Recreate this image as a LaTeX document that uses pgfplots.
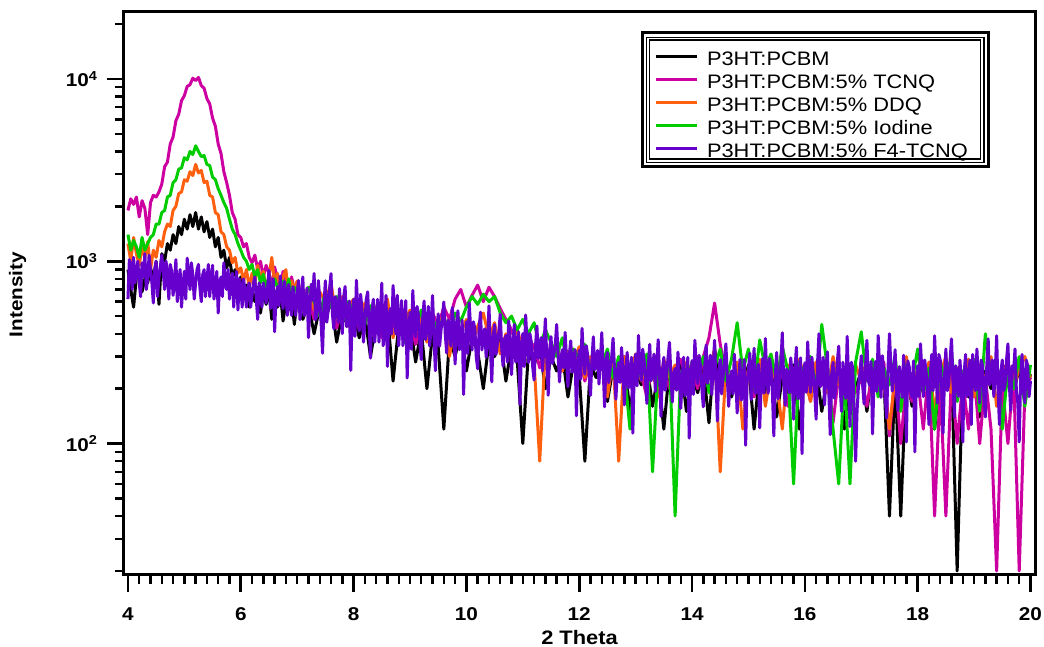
\documentclass[border=0pt]{standalone}
\usepackage{fontspec}
\setmainfont{Liberation Sans}[FakeStretch=1.12]
\usepackage{pgfplots}
\pgfplotsset{compat=1.18}
\usepackage{pgfplotstable}

\definecolor{cMag}{RGB}{204,0,160}
\definecolor{cOra}{RGB}{255,96,16}
\definecolor{cGre}{RGB}{0,204,0}
\definecolor{cPur}{RGB}{102,0,204}

% rows 0-59: 2theta = 4.00 ... 6.95 (step 0.05); rows 60-190: 7.0 ... 20.0 (step 0.1)
\pgfplotstableread[row sep=\\]{
y\\
900\\ 700\\ 560\\ 820\\ 900\\ 680\\ 800\\ 760\\ 920\\ 800\\
1000\\ 580\\ 1100\\ 1000\\ 1250\\ 1150\\ 1400\\ 1250\\ 1550\\ 1400\\
1700\\ 1500\\ 1800\\ 1550\\ 1850\\ 1500\\ 1750\\ 1450\\ 1650\\ 1350\\
1500\\ 1200\\ 1350\\ 1050\\ 1150\\ 920\\ 1050\\ 820\\ 900\\ 720\\
820\\ 650\\ 740\\ 560\\ 700\\ 600\\ 720\\ 520\\ 680\\ 580\\
700\\ 480\\ 620\\ 560\\ 680\\ 470\\ 600\\ 540\\ 650\\ 450\\
620\\ 480\\ 580\\ 400\\ 560\\ 470\\ 620\\ 360\\ 520\\ 440\\
540\\ 380\\ 500\\ 300\\ 460\\ 410\\ 520\\ 220\\ 440\\ 360\\
460\\ 280\\ 420\\ 200\\ 400\\ 340\\ 120\\ 380\\ 300\\ 420\\
250\\ 380\\ 320\\ 200\\ 360\\ 300\\ 380\\ 220\\ 340\\ 290\\
100\\ 320\\ 270\\ 340\\ 200\\ 300\\ 250\\ 310\\ 180\\ 280\\
240\\ 80\\ 270\\ 230\\ 290\\ 170\\ 260\\ 220\\ 280\\ 150\\
250\\ 210\\ 270\\ 160\\ 240\\ 120\\ 260\\ 200\\ 280\\ 150\\
240\\ 190\\ 260\\ 130\\ 330\\ 220\\ 260\\ 180\\ 240\\ 200\\
270\\ 120\\ 250\\ 190\\ 260\\ 140\\ 230\\ 190\\ 270\\ 120\\
240\\ 200\\ 260\\ 150\\ 230\\ 190\\ 280\\ 120\\ 240\\ 200\\
250\\ 150\\ 260\\ 200\\ 240\\ 40\\ 230\\ 40\\ 250\\ 160\\
240\\ 190\\ 270\\ 120\\ 230\\ 200\\ 260\\ 20\\ 240\\ 180\\
270\\ 140\\ 250\\ 200\\ 280\\ 150\\ 240\\ 190\\ 260\\ 170\\
240\\
}\tblBlack

\pgfplotstableread[row sep=\\]{
y\\
1900\\ 2200\\ 2050\\ 2250\\ 1750\\ 2150\\ 1950\\ 1400\\ 2100\\ 2300\\
2250\\ 2400\\ 2650\\ 3300\\ 3500\\ 4400\\ 4800\\ 5900\\ 6400\\ 7600\\
8100\\ 9100\\ 9300\\ 10100\\ 9800\\ 10200\\ 9200\\ 8900\\ 7800\\ 7300\\
6100\\ 5500\\ 4400\\ 3900\\ 3100\\ 2700\\ 2300\\ 1850\\ 1700\\ 1400\\
1350\\ 1200\\ 1250\\ 1050\\ 980\\ 1080\\ 900\\ 1000\\ 820\\ 950\\
860\\ 720\\ 930\\ 800\\ 680\\ 880\\ 760\\ 600\\ 820\\ 700\\
700\\ 560\\ 640\\ 480\\ 600\\ 520\\ 650\\ 430\\ 560\\ 500\\
580\\ 420\\ 540\\ 470\\ 560\\ 380\\ 520\\ 450\\ 400\\ 510\\
470\\ 350\\ 480\\ 410\\ 520\\ 440\\ 560\\ 480\\ 620\\ 700\\
560\\ 650\\ 740\\ 600\\ 720\\ 640\\ 550\\ 480\\ 420\\ 340\\
380\\ 300\\ 350\\ 260\\ 340\\ 300\\ 360\\ 250\\ 320\\ 280\\
300\\ 220\\ 290\\ 260\\ 310\\ 200\\ 280\\ 250\\ 300\\ 210\\
270\\ 240\\ 180\\ 280\\ 230\\ 260\\ 200\\ 250\\ 290\\ 220\\
260\\ 200\\ 300\\ 380\\ 590\\ 350\\ 240\\ 200\\ 260\\ 220\\
250\\ 180\\ 270\\ 230\\ 300\\ 200\\ 250\\ 160\\ 260\\ 220\\
240\\ 170\\ 280\\ 210\\ 250\\ 130\\ 240\\ 200\\ 270\\ 190\\
230\\ 160\\ 250\\ 200\\ 280\\ 110\\ 240\\ 100\\ 220\\ 170\\
230\\ 120\\ 260\\ 40\\ 210\\ 40\\ 240\\ 100\\ 220\\ 120\\
250\\ 100\\ 230\\ 120\\ 20\\ 210\\ 100\\ 250\\ 20\\ 190\\
230\\
}\tblMag

\pgfplotstableread[row sep=\\]{
y\\
1250\\ 1000\\ 1350\\ 1100\\ 950\\ 1200\\ 1050\\ 1280\\ 900\\ 1150\\
1050\\ 1300\\ 1200\\ 1450\\ 1600\\ 1550\\ 1900\\ 2000\\ 2350\\ 2400\\
2800\\ 2750\\ 3100\\ 2950\\ 3400\\ 3050\\ 3150\\ 2700\\ 2750\\ 2300\\
2250\\ 1850\\ 1800\\ 1450\\ 1400\\ 1200\\ 1150\\ 980\\ 1050\\ 860\\
920\\ 780\\ 900\\ 720\\ 860\\ 760\\ 950\\ 800\\ 880\\ 700\\
820\\ 1050\\ 760\\ 860\\ 680\\ 820\\ 900\\ 640\\ 780\\ 700\\
780\\ 620\\ 720\\ 540\\ 680\\ 600\\ 760\\ 480\\ 640\\ 560\\
620\\ 480\\ 590\\ 430\\ 560\\ 500\\ 620\\ 380\\ 520\\ 470\\
540\\ 400\\ 500\\ 360\\ 470\\ 430\\ 520\\ 300\\ 460\\ 400\\
480\\ 350\\ 440\\ 520\\ 380\\ 460\\ 310\\ 400\\ 360\\ 420\\
330\\ 390\\ 280\\ 80\\ 340\\ 300\\ 360\\ 250\\ 320\\ 280\\
340\\ 230\\ 300\\ 260\\ 320\\ 180\\ 290\\ 80\\ 300\\ 240\\
310\\ 220\\ 280\\ 250\\ 180\\ 290\\ 230\\ 270\\ 200\\ 280\\
240\\ 300\\ 210\\ 250\\ 330\\ 70\\ 260\\ 200\\ 280\\ 120\\
260\\ 210\\ 290\\ 160\\ 250\\ 220\\ 120\\ 270\\ 200\\ 290\\
230\\ 170\\ 280\\ 240\\ 190\\ 300\\ 210\\ 250\\ 160\\ 270\\
220\\ 290\\ 180\\ 260\\ 210\\ 120\\ 240\\ 200\\ 300\\ 180\\
260\\ 210\\ 280\\ 150\\ 240\\ 300\\ 190\\ 260\\ 210\\ 290\\
180\\ 270\\ 220\\ 300\\ 160\\ 250\\ 280\\ 200\\ 260\\ 300\\
230\\
}\tblOra

\pgfplotstableread[row sep=\\]{
y\\
1400\\ 1150\\ 1300\\ 1200\\ 1050\\ 1350\\ 1150\\ 1250\\ 1350\\ 1400\\
1600\\ 1600\\ 1850\\ 1900\\ 2250\\ 2300\\ 2700\\ 2800\\ 3200\\ 3250\\
3700\\ 3600\\ 4000\\ 3850\\ 4300\\ 4000\\ 3750\\ 3800\\ 3400\\ 3350\\
2900\\ 2800\\ 2500\\ 2300\\ 2100\\ 1950\\ 1700\\ 1500\\ 1400\\ 1250\\
1150\\ 1050\\ 1000\\ 900\\ 960\\ 820\\ 900\\ 760\\ 850\\ 700\\
830\\ 650\\ 800\\ 720\\ 620\\ 780\\ 680\\ 800\\ 640\\ 720\\
680\\ 560\\ 720\\ 600\\ 500\\ 680\\ 560\\ 640\\ 460\\ 600\\
540\\ 620\\ 450\\ 570\\ 500\\ 580\\ 420\\ 540\\ 470\\ 360\\
500\\ 430\\ 540\\ 400\\ 480\\ 420\\ 500\\ 380\\ 520\\ 470\\
560\\ 640\\ 580\\ 660\\ 600\\ 640\\ 520\\ 460\\ 500\\ 420\\
480\\ 400\\ 460\\ 340\\ 420\\ 360\\ 300\\ 380\\ 260\\ 330\\
290\\ 350\\ 240\\ 310\\ 270\\ 330\\ 230\\ 300\\ 250\\ 120\\
290\\ 230\\ 310\\ 70\\ 270\\ 220\\ 290\\ 40\\ 250\\ 200\\
280\\ 230\\ 300\\ 190\\ 260\\ 330\\ 220\\ 290\\ 460\\ 250\\
330\\ 200\\ 370\\ 260\\ 310\\ 220\\ 340\\ 250\\ 60\\ 280\\
230\\ 300\\ 200\\ 450\\ 260\\ 120\\ 60\\ 240\\ 60\\ 280\\
410\\ 220\\ 290\\ 180\\ 260\\ 210\\ 300\\ 150\\ 270\\ 220\\
330\\ 190\\ 260\\ 120\\ 280\\ 210\\ 310\\ 170\\ 250\\ 200\\
290\\ 150\\ 400\\ 230\\ 280\\ 120\\ 260\\ 200\\ 300\\ 160\\
270\\
}\tblGre

% 2theta = 4.000 ... 20.000 (step 0.025)
\pgfplotstableread[row sep=\\]{
y\\
620\\ 1020\\ 950\\ 700\\ 1050\\ 760\\ 880\\ 1000\\ 760\\ 640\\ 980\\ 820\\ 1100\\ 700\\ 800\\ 1080\\ 900\\ 760\\ 590\\ 900\\
1000\\ 640\\ 820\\ 940\\ 1080\\ 880\\ 700\\ 1000\\ 850\\ 620\\ 960\\ 880\\ 650\\ 780\\ 1020\\ 600\\ 760\\ 900\\ 560\\ 740\\
880\\ 620\\ 1040\\ 860\\ 700\\ 980\\ 840\\ 620\\ 760\\ 900\\ 960\\ 720\\ 600\\ 840\\ 900\\ 640\\ 780\\ 960\\ 640\\ 800\\
950\\ 620\\ 720\\ 880\\ 520\\ 760\\ 820\\ 640\\ 980\\ 760\\ 700\\ 900\\ 620\\ 780\\ 860\\ 560\\ 740\\ 880\\ 540\\ 800\\
720\\ 560\\ 800\\ 680\\ 560\\ 720\\ 760\\ 560\\ 650\\ 760\\ 820\\ 620\\ 480\\ 760\\ 700\\ 560\\ 760\\ 680\\ 590\\ 720\\
890\\ 550\\ 645\\ 800\\ 410\\ 640\\ 725\\ 570\\ 830\\ 640\\ 550\\ 775\\ 665\\ 505\\ 745\\ 595\\ 505\\ 725\\ 620\\ 505\\
676\\ 783\\ 478\\ 580\\ 820\\ 503\\ 554\\ 713\\ 381\\ 554\\ 748\\ 612\\ 857\\ 478\\ 503\\ 783\\ 629\\ 453\\ 313\\ 580\\
781\\ 463\\ 540\\ 708\\ 855\\ 514\\ 426\\ 639\\ 572\\ 463\\ 708\\ 540\\ 401\\ 639\\ 727\\ 438\\ 489\\ 605\\ 252\\ 514\\
618\\ 387\\ 786\\ 541\\ 415\\ 658\\ 541\\ 360\\ 458\\ 618\\ 679\\ 443\\ 294\\ 541\\ 618\\ 360\\ 473\\ 618\\ 360\\ 503\\
758\\ 344\\ 443\\ 650\\ 265\\ 492\\ 549\\ 399\\ 736\\ 530\\ 399\\ 650\\ 344\\ 475\\ 608\\ 344\\ 458\\ 608\\ 229\\ 399\\
524\\ 329\\ 691\\ 448\\ 386\\ 565\\ 505\\ 357\\ 289\\ 486\\ 605\\ 372\\ 448\\ 565\\ 343\\ 448\\ 648\\ 386\\ 251\\ 415\\
514\\ 342\\ 418\\ 494\\ 598\\ 400\\ 314\\ 475\\ 456\\ 342\\ 556\\ 437\\ 273\\ 456\\ 535\\ 327\\ 370\\ 475\\ 186\\ 342\\
465\\ 312\\ 591\\ 426\\ 326\\ 465\\ 426\\ 298\\ 257\\ 426\\ 526\\ 326\\ 388\\ 426\\ 298\\ 355\\ 569\\ 340\\ 218\\ 388\\
450\\ 308\\ 353\\ 410\\ 513\\ 338\\ 266\\ 372\\ 391\\ 280\\ 471\\ 372\\ 239\\ 353\\ 450\\ 280\\ 323\\ 410\\ 164\\ 323\\
401\\ 264\\ 507\\ 361\\ 278\\ 401\\ 361\\ 264\\ 223\\ 343\\ 441\\ 293\\ 324\\ 381\\ 250\\ 343\\ 484\\ 293\\ 184\\ 324\\
386\\ 275\\ 308\\ 346\\ 450\\ 308\\ 218\\ 290\\ 327\\ 260\\ 407\\ 290\\ 205\\ 308\\ 366\\ 246\\ 275\\ 327\\ 142\\ 260\\
324\\ 225\\ 428\\ 305\\ 240\\ 344\\ 305\\ 240\\ 184\\ 286\\ 385\\ 254\\ 271\\ 324\\ 212\\ 286\\ 406\\ 254\\ 159\\ 286\\
316\\ 216\\ 260\\ 297\\ 378\\ 260\\ 175\\ 245\\ 278\\ 216\\ 336\\ 260\\ 163\\ 245\\ 316\\ 202\\ 231\\ 297\\ 114\\ 245\\
309\\ 207\\ 392\\ 270\\ 221\\ 329\\ 289\\ 221\\ 166\\ 270\\ 350\\ 221\\ 250\\ 309\\ 193\\ 270\\ 371\\ 236\\ 141\\ 250\\
297\\ 196\\ 240\\ 297\\ 359\\ 240\\ 169\\ 240\\ 258\\ 196\\ 317\\ 240\\ 156\\ 225\\ 297\\ 183\\ 211\\ 297\\ 107\\ 225\\
285\\ 186\\ 368\\ 266\\ 214\\ 305\\ 266\\ 200\\ 159\\ 266\\ 347\\ 214\\ 246\\ 305\\ 186\\ 266\\ 368\\ 214\\ 133\\ 246\\
289\\ 187\\ 231\\ 289\\ 352\\ 231\\ 160\\ 231\\ 250\\ 187\\ 309\\ 231\\ 147\\ 216\\ 289\\ 173\\ 202\\ 289\\ 98\\ 216\\
253\\ 313\\ 174\\ 232\\ 333\\ 189\\ 203\\ 272\\ 122\\ 218\\ 292\\ 189\\ 377\\ 232\\ 189\\ 292\\ 253\\ 189\\ 110\\ 232\\
316\\ 176\\ 204\\ 275\\ 405\\ 220\\ 162\\ 256\\ 237\\ 190\\ 295\\ 237\\ 136\\ 256\\ 337\\ 176\\ 190\\ 295\\ 88\\ 220\\
277\\ 191\\ 361\\ 238\\ 191\\ 297\\ 238\\ 191\\ 136\\ 277\\ 400\\ 205\\ 220\\ 297\\ 163\\ 257\\ 318\\ 191\\ 112\\ 238\\
279\\ 177\\ 206\\ 279\\ 342\\ 206\\ 150\\ 279\\ 220\\ 177\\ 387\\ 220\\ 124\\ 279\\ 259\\ 137\\ 80\\ 150\\ 206\\ 240\\
303\\ 208\\ 165\\ 262\\ 368\\ 221\\ 208\\ 282\\ 113\\ 221\\ 282\\ 193\\ 391\\ 262\\ 179\\ 303\\ 243\\ 179\\ 138\\ 262\\
400\\ 264\\ 194\\ 245\\ 327\\ 194\\ 152\\ 264\\ 226\\ 179\\ 305\\ 226\\ 102\\ 284\\ 264\\ 194\\ 179\\ 284\\ 90\\ 209\\
267\\ 181\\ 352\\ 247\\ 181\\ 287\\ 247\\ 195\\ 127\\ 247\\ 308\\ 195\\ 390\\ 247\\ 167\\ 308\\ 287\\ 195\\ 114\\ 228\\
330\\ 195\\ 210\\ 287\\ 375\\ 228\\ 140\\ 267\\ 247\\ 181\\ 287\\ 210\\ 102\\ 247\\ 308\\ 181\\ 195\\ 287\\ 127\\ 308\\
247\\ 195\\ 330\\ 228\\ 167\\ 287\\ 267\\ 181\\ 140\\ 267\\ 375\\ 210\\ 228\\ 287\\ 181\\ 247\\ 390\\ 195\\ 127\\ 247\\
287\\ 195\\ 210\\ 287\\ 352\\ 210\\ 152\\ 267\\ 247\\ 330\\ 195\\ 167\\ 102\\ 228\\ 308\\ 195\\ 167\\ 287\\ 267\\ 181\\
220\\
}\tblPur

\begin{document}
\begin{tikzpicture}
\useasboundingbox (-124bp,-72bp) rectangle (920bp,575bp);
\begin{axis}[
  at={(0bp,0bp)}, anchor=south west,
  scale only axis,
  width=911bp, height=563bp,
  xmin=3.93, xmax=20.08,
  ymode=log, ymin=19, ymax=23300,
  clip mode=individual,
  axis line style={line width=3bp},
  tick style={black},
  major tick style={line width=2.6bp},
  minor tick style={line width=2.4bp},
  tick align=outside,
  xtick pos=left, ytick pos=left,
  major tick length=17bp, minor tick length=9bp,
  xtick={4,6,8,10,12,14,16,18,20},
  xticklabels={4,6,8,10,12,14,16,18,20},
  minor x tick num=9,
  ytick={100,1000,10000},
  yticklabels={{10\textsuperscript{2}},{10\textsuperscript{3}},{10\textsuperscript{4}}},
  minor ytick={20,30,40,50,60,70,80,90,200,300,400,500,600,700,800,900,2000,3000,4000,5000,6000,7000,8000,9000,20000},
  tick label style={font=\bfseries\fontsize{18.5bp}{20bp}\selectfont},
  xticklabel style={yshift=-12bp},
  yticklabel style={xshift=-6bp},
  xlabel={2 Theta},
  ylabel={Intensity},
  xlabel style={font=\bfseries\fontsize{19.5bp}{22bp}\selectfont, at={(axis description cs:0.5,-0.111)}, anchor=center},
  ylabel style={font=\bfseries\fontsize{18.5bp}{22bp}\selectfont, at={(axis description cs:-0.1169,0.4982)}, anchor=center},
  legend cell align=left,
  legend image code/.code={\draw[#1, line width=3bp] (0bp,6.7bp) -- (41bp,6.7bp);},
  legend style={at={(axis description cs:0.5818,0.9302)}, anchor=north west,
    draw=none, fill=none, inner sep=0pt, outer sep=0pt, row sep=0pt,
    /tikz/every odd column/.append style={column sep=9bp},
    font=\fontsize{19.5bp}{22bp}\selectfont,
    nodes={inner sep=0pt, text height=14.7bp, text depth=8.3bp}},
  every axis plot/.append style={line width=3bp, line join=round, no markers},
]
\addplot[black] table[x expr={\coordindex<60 ? 4+0.05*\coordindex : 1+0.1*\coordindex}, y=y] {\tblBlack};
\addlegendentry{P3HT:PCBM}
\addplot[cMag] table[x expr={\coordindex<60 ? 4+0.05*\coordindex : 1+0.1*\coordindex}, y=y] {\tblMag};
\addlegendentry{P3HT:PCBM:5\% TCNQ}
\addplot[cOra] table[x expr={\coordindex<60 ? 4+0.05*\coordindex : 1+0.1*\coordindex}, y=y] {\tblOra};
\addlegendentry{P3HT:PCBM:5\% DDQ}
\addplot[cGre] table[x expr={\coordindex<60 ? 4+0.05*\coordindex : 1+0.1*\coordindex}, y=y] {\tblGre};
\addlegendentry{P3HT:PCBM:5\% Iodine}
\addplot[cPur] table[x expr={4+0.025*\coordindex}, y=y] {\tblPur};
\addlegendentry{P3HT:PCBM:5\% F4-TCNQ}
\draw[line width=3.3bp] (axis description cs:0.5689,0.7256) rectangle (axis description cs:0.9487,0.9639);
\draw[line width=1.3bp] (axis description cs:0.5738,0.7332) rectangle (axis description cs:0.9440,0.9551);
\draw[line width=1.3bp] (axis description cs:0.5771,0.7389) rectangle (axis description cs:0.9404,0.9503);
\end{axis}
\end{tikzpicture}
\end{document}
